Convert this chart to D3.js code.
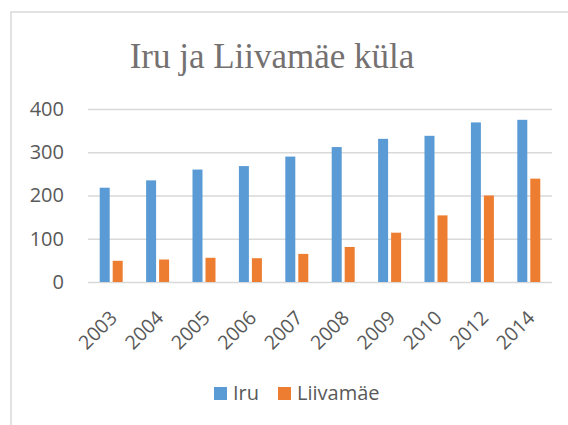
<!DOCTYPE html>
<html><head><meta charset="utf-8">
<script src="https://cdn.jsdelivr.net/npm/d3@7"></script>
<style>body{margin:0;background:#fff;}svg{display:block;}</style>
</head><body>
<script>
const categories = ["2003","2004","2005","2006","2007","2008","2009","2010","2012","2014"];
const iru = [218,235,260,268,290,312,331,338,369,375];
const liivamae = [49,52,56,55,65,81,114,154,200,239];
const seriesNames = ["Iru","Liivamäe"];
const yTicks = [0,100,200,300,400];
const colors = ["#5B9BD5","#ED7D31"];

const W=568,H=425;
const svg=d3.select("body").append("svg").attr("width",W).attr("height",H);
svg.append("rect").attr("x",11).attr("y",12).attr("width",W).attr("height",H)
  .attr("fill","#fff").attr("stroke","#d9d9d9").attr("stroke-width",1.5);

const m={left:88,right:552,top:109,bottom:282};
const x=d3.scaleBand().domain(categories).range([m.left,m.right]);
const y=d3.scaleLinear().domain([0,400]).range([m.bottom,m.top]);

svg.append("text").attr("x",272).attr("y",68).attr("text-anchor","middle")
  .attr("font-family","Liberation Serif, Times New Roman, serif").attr("font-size",35)
  .attr("fill","#757171").text("Iru ja Liivamäe küla");

const ya=svg.append("g").attr("transform",`translate(${m.left},0)`)
  .call(d3.axisLeft(y).tickValues(yTicks).tickSize(-(m.right-m.left)).tickPadding(24));
ya.select(".domain").remove();
ya.selectAll("line").attr("stroke","#d9d9d9").attr("stroke-width",1.3);
ya.selectAll("text").attr("font-family","Open Sans, Liberation Sans, sans-serif").attr("font-size",20).attr("fill","#595959");

const xa=svg.append("g").attr("transform",`translate(0,${m.bottom})`).call(d3.axisBottom(x).tickSize(0));
xa.select(".domain").remove();
xa.selectAll("text").attr("font-family","Open Sans, Liberation Sans, sans-serif").attr("font-size",19.5).attr("fill","#595959")
  .attr("text-anchor","end").attr("dy",0).attr("transform","translate(5,35) rotate(-45)");

const bw=10, gap=3;
const data=[iru,liivamae];
data.forEach((vals,si)=>{
  svg.append("g").selectAll("rect").data(vals).join("rect")
    .attr("x",(d,i)=>x(categories[i])+x.bandwidth()/2-bw-gap/2+si*(bw+gap))
    .attr("y",d=>y(d)).attr("width",bw).attr("height",d=>y(0)-y(d))
    .attr("fill",colors[si]);
});

const lg=svg.append("g");
const legX=[214,278];
seriesNames.forEach((n,i)=>{
  lg.append("rect").attr("x",legX[i]).attr("y",387).attr("width",13).attr("height",13).attr("fill",colors[i]);
  lg.append("text").attr("x",legX[i]+19).attr("y",400).attr("font-family","Open Sans, Liberation Sans, sans-serif")
    .attr("font-size",20).attr("fill","#595959").text(n);
});
</script>
</body></html>
